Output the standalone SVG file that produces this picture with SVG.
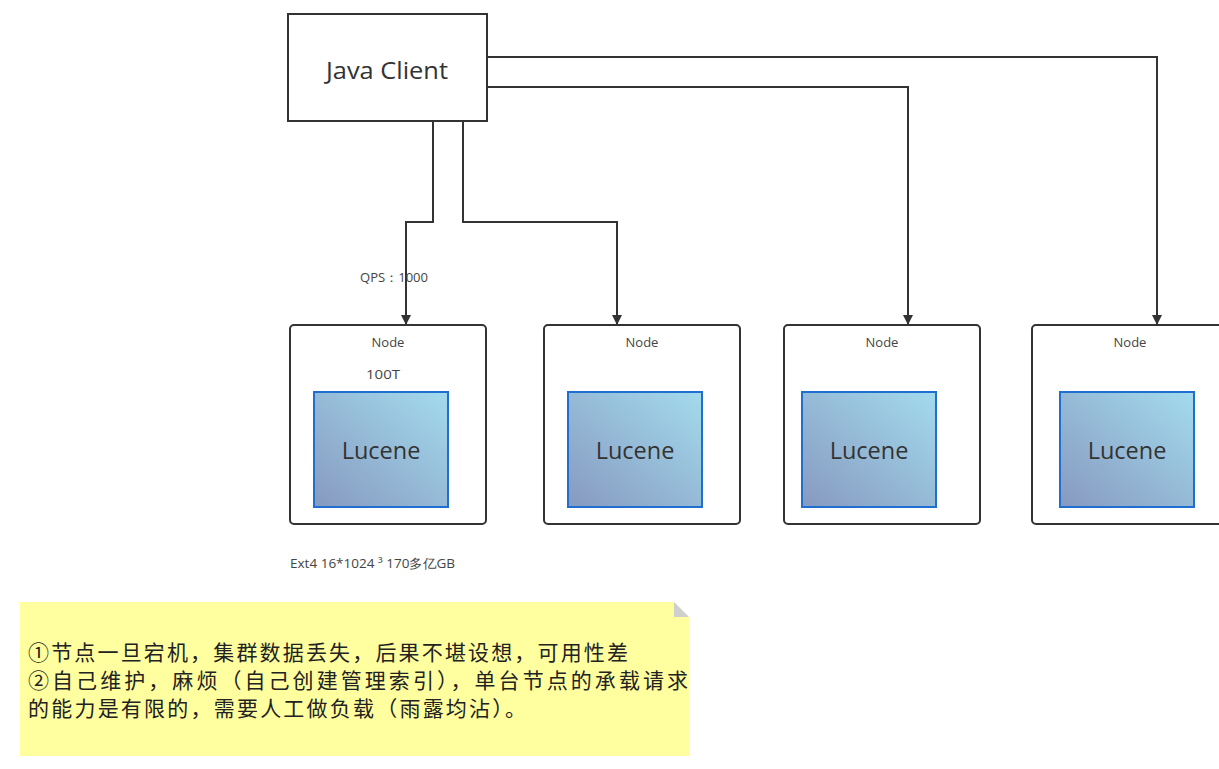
<svg xmlns="http://www.w3.org/2000/svg" width="1219" height="769" viewBox="0 0 1219 769">
<style>
.box{fill:#fff;stroke:#333;stroke-width:2}
.node{fill:#fff;stroke:#333;stroke-width:2}
.luc{fill:url(#lg);stroke:#1f6fd1;stroke-width:2}
.conn{fill:none;stroke:#333;stroke-width:2}
.t{font-family:"Open Sans","Noto Sans","Liberation Sans",sans-serif;fill:#333}
.small{font-size:13px;fill:#444}
.lucene{font-size:23.5px}
.cjk{font-family:"Noto Sans CJK SC","Noto Sans",sans-serif;font-size:21px;fill:#222}
</style>
<defs>
<linearGradient id="lg" x1="0" y1="1" x2="1" y2="0">
<stop offset="0" stop-color="#8799c0"/>
<stop offset="1" stop-color="#a3dbed"/>
</linearGradient>
<marker id="arr" markerWidth="10" markerHeight="10" refX="9" refY="5" orient="auto" markerUnits="userSpaceOnUse">
<path d="M0,0 L10,5 L0,10 z" fill="#333"/>
</marker>
</defs>
<g id="connectors">
<path class="conn" d="M433,121 V222 H406 V324" marker-end="url(#arr)"/>
<path class="conn" d="M463,121 V222 H617 V324" marker-end="url(#arr)"/>
<path class="conn" d="M487,87 H908 V324" marker-end="url(#arr)"/>
<path class="conn" d="M487,57 H1157 V324" marker-end="url(#arr)"/>
</g>
<g id="java-client">
<rect class="box" x="288" y="14" width="199" height="107"/>
<text class="t" x="326" y="79" font-size="24.5" textLength="122" lengthAdjust="spacingAndGlyphs">Java Client</text>
</g>
<g id="qps-label"><text class="t small" x="360" y="282" textLength="68" lengthAdjust="spacingAndGlyphs">QPS：1000</text></g>
<g id="node1">
<rect class="node" x="290" y="325" width="196" height="199" rx="4"/>
<text class="t small" x="388" y="347" text-anchor="middle">Node</text>
<text class="t small" x="366" y="379" font-size="13.5" textLength="34" lengthAdjust="spacingAndGlyphs">100T</text>
<rect class="luc" x="314" y="392" width="134" height="115"/>
<text class="t lucene" x="381" y="459" text-anchor="middle">Lucene</text>
</g>
<g id="node2">
<rect class="node" x="544" y="325" width="196" height="199" rx="4"/>
<text class="t small" x="642" y="347" text-anchor="middle">Node</text>
<rect class="luc" x="568" y="392" width="134" height="115"/>
<text class="t lucene" x="635" y="459" text-anchor="middle">Lucene</text>
</g>
<g id="node3">
<rect class="node" x="784" y="325" width="196" height="199" rx="4"/>
<text class="t small" x="882" y="347" text-anchor="middle">Node</text>
<rect class="luc" x="802" y="392" width="134" height="115"/>
<text class="t lucene" x="869" y="459" text-anchor="middle">Lucene</text>
</g>
<g id="node4">
<rect class="node" x="1032" y="325" width="196" height="199" rx="4"/>
<text class="t small" x="1130" y="347" text-anchor="middle">Node</text>
<rect class="luc" x="1060" y="392" width="134" height="115"/>
<text class="t lucene" x="1127" y="459" text-anchor="middle">Lucene</text>
</g>
<g id="ext4-label"><text class="t small" x="290" y="568" font-family="'Open Sans','Noto Sans CJK SC',sans-serif" textLength="165" lengthAdjust="spacingAndGlyphs">Ext4 16*1024 ³  170多亿GB</text></g>
<g id="note">
<path d="M20,602 H674 L689,617 V756 H20 Z" fill="#ffff9f"/>
<path d="M674,602 L689,617 H674 Z" fill="#cfcfcf"/>
<text class="cjk" x="28" y="660" textLength="600" lengthAdjust="spacing">①节点一旦宕机，集群数据丢失，后果不堪设想，可用性差</text>
<text class="cjk" x="28" y="688" textLength="660" lengthAdjust="spacing">②自己维护，麻烦（自己创建管理索引），单台节点的承载请求</text>
<text class="cjk" x="28" y="716" textLength="498" lengthAdjust="spacing">的能力是有限的，需要人工做负载（雨露均沾）。</text>
</g>
</svg>
